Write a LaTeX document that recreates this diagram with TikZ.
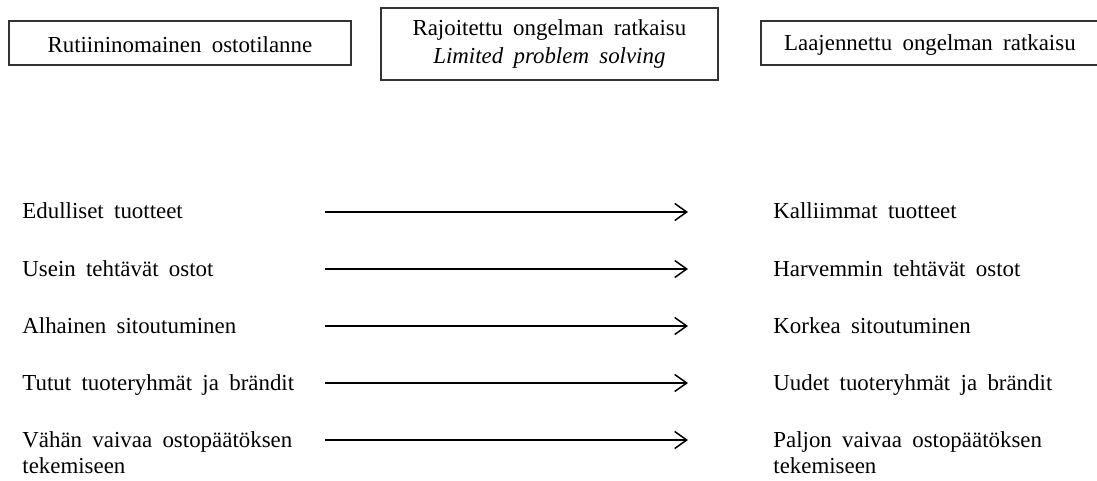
\documentclass[tikz,border=0pt]{standalone}
\usepackage{fontspec}
\setmainfont{Liberation Serif}
\usetikzlibrary{arrows.meta}
\newcommand\wideskip{\spaceskip=0.45em plus 0.1em\relax}
\begin{document}
\begin{tikzpicture}[x=0.5pt,y=-0.5pt,
  every node/.style={font=\fontsize{11.45pt}{13pt}\selectfont\wideskip},
  headbox/.style={draw=black!80,line width=0.9pt,inner sep=0pt,anchor=north west},
  item/.style={anchor=base west,inner sep=0pt,align=left},
  trend/.style={line width=0.75pt,-{Straight Barb[length=6pt,width=8.5pt,line width=0.75pt]}}]
\useasboundingbox (0,0) rectangle (1097,481);
\clip (0,0) rectangle (1097,481);

% heading boxes
\node[headbox,minimum width=171pt,minimum height=22pt] (routine) at (8,20) {};
\node at (routine.center) [yshift=-1pt] {Rutiininomainen ostotilanne};
\node[headbox,minimum width=168.5pt,minimum height=36pt] (limited) at (380,7) {};
\node[align=center,font=\fontsize{11.45pt}{14pt}\selectfont\wideskip] at (limited.center) {Rajoitettu ongelman ratkaisu\\\textit{Limited problem solving}};
\node[headbox,minimum width=169pt,minimum height=22pt] (extended) at (760,20) {};
\node at (extended.center) [yshift=-1pt] {Laajennettu ongelman ratkaisu};

% left column (two-line items are placed by their last baseline)
\node[item] (l1) at (22,218) {Edulliset tuotteet};
\node[item] (l2) at (22,276) {Usein tehtävät ostot};
\node[item] (l3) at (22,333) {Alhainen sitoutuminen};
\node[item] (l4) at (22,390) {Tutut tuoteryhmät ja brändit};
\node[item] (l5) at (22,473) {Vähän vaivaa ostopäätöksen\\tekemiseen};

% right column
\node[item] (r1) at (773,218) {Kalliimmat tuotteet};
\node[item] (r2) at (773,276) {Harvemmin tehtävät ostot};
\node[item] (r3) at (773,333) {Korkea sitoutuminen};
\node[item] (r4) at (773,390) {Uudet tuoteryhmät ja brändit};
\node[item] (r5) at (773,473) {Paljon vaivaa ostopäätöksen\\tekemiseen};

% arrows between the columns
\foreach \i/\y in {1/212,2/269,3/326,4/383,5/440}{
  \coordinate (s\i) at (325,\y);
  \coordinate (e\i) at (688,\y);
  \draw[trend] (s\i) -- (e\i);
}
\end{tikzpicture}
\end{document}
